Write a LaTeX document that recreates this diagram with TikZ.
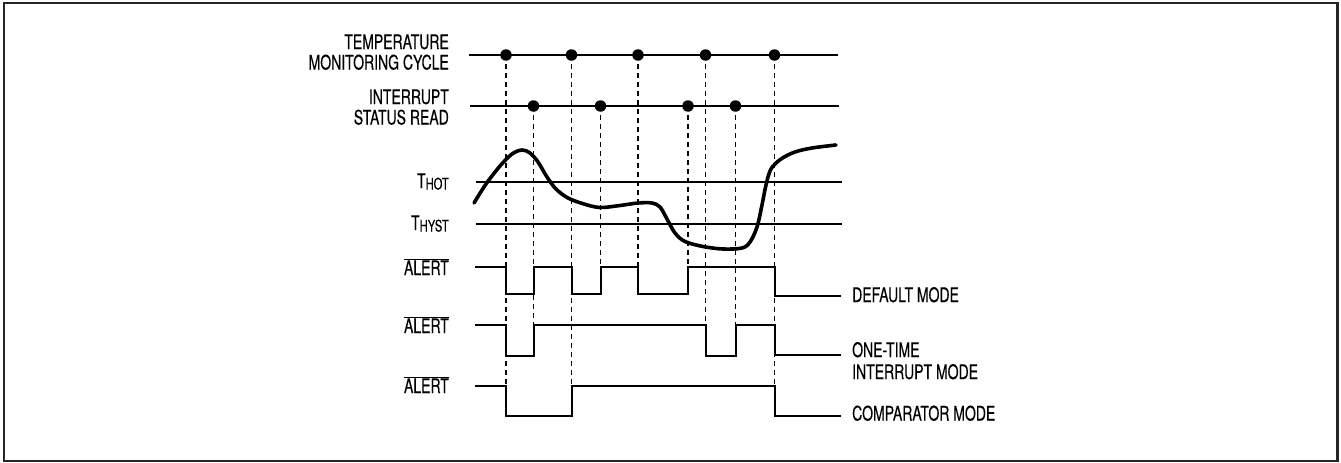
\documentclass[tikz,border=0pt]{standalone}
\usepackage{fontspec}
\setmainfont{TeX Gyre Heros}[FakeStretch=0.70,FakeBold=0.3]
\begin{document}
\begin{tikzpicture}[x=1pt,y=-1pt,
  axis/.style={line width=2pt},
  sig/.style={line width=2pt,line join=miter},
  guide/.style={line width=1.2pt,dash pattern=on 5pt off 4pt},
  curve/.style={line width=3.6pt,line cap=round,line join=round},
  dot/.style={circle,fill=black,inner sep=0pt,minimum size=11.5pt},
  lbl/.style={inner sep=0pt,font=\fontsize{20}{22}\selectfont},
  lleft/.style={lbl,anchor=base east},
  lright/.style={lbl,anchor=base west}]
\useasboundingbox (0,0) rectangle (1341,463);
\draw[line width=2.4pt,black!85] (4,3) rectangle (1337.5,461);

% left labels
\node[lleft] (l1a) at (449,49) {TEMPERATURE};
\node[lleft] (l1b) at (449,69.5) {MONITORING CYCLE};
\node[lleft] (l2a) at (449,104) {INTERRUPT};
\node[lleft] (l2b) at (449,124.5) {STATUS READ};
\node[lleft] (lhot) at (449,188) {T\raisebox{-1.5pt}{\fontsize{16}{16}\selectfont HOT}};
\node[lleft] (lhyst) at (449,230) {T\raisebox{-1.5pt}{\fontsize{16}{16}\selectfont HYST}};
\node[lleft] (la1) at (449,275) {$\overline{\hbox{ALERT}}$};
\node[lleft] (la2) at (449,333) {$\overline{\hbox{ALERT}}$};
\node[lleft] (la3) at (449,393) {$\overline{\hbox{ALERT}}$};

% right labels
\node[lright] (r1) at (852,302) {DEFAULT MODE};
\node[lright] (r2a) at (852,357) {ONE-TIME};
\node[lright] (r2b) at (852,379) {INTERRUPT MODE};
\node[lright] (r3) at (852,420.5) {COMPARATOR MODE};

% time axes
\draw[axis] (469,55) -- (838,55);
\draw[axis] (470,106) -- (839,106);
\draw[axis] (476,182) -- (842,182);
\draw[axis] (476,224) -- (842,224);

% dots
\foreach \n/\x in {t1/506,t2/571.5,t3/638,t4/705.5,t5/774.5}
  \node[dot] (\n) at (\x,55) {};
\foreach \n/\x in {i1/533.5,i2/600.5,i3/688,i4/735.5}
  \node[dot] (\n) at (\x,106) {};

% dashed end points
\coordinate (et1) at (506,386);
\coordinate (et2) at (571.5,386);
\coordinate (et3) at (638,267);
\coordinate (et4) at (705.5,325);
\coordinate (et5) at (774.5,386);
\coordinate (ei1) at (533.5,325);
\coordinate (ei2) at (600.5,267);
\coordinate (ei3) at (688,267);
\coordinate (ei4) at (735.5,325);
\foreach \n in {t1,t2,t3,t4,t5,i1,i2,i3,i4}
  \draw[guide] (\n.center) -- (e\n);

% temperature curve
\draw[curve] plot[smooth,tension=0.55] coordinates {
 (474,203) (486,184) (500,166) (512,154) (522,150) (530,153) (538,162)
 (547,177) (556,189) (568,198) (584,204) (600,207.5) (620,205.5) (638,203)
 (652,203) (660,207) (667,219) (675,233) (685,241.5) (703,246.5) (723,249)
 (742,248) (750,242) (757,227) (762,205) (766,185) (771,169) (781,159)
 (795,152) (812,148) (836,145)};

% ALERT default mode
\draw[sig] (475,267) -- (506,267) -- (506,294) -- (533.5,294) -- (533.5,267)
  -- (571.5,267) -- (571.5,294) -- (600.5,294) -- (600.5,267) -- (638,267)
  -- (638,294) -- (688,294) -- (688,267) -- (774.5,267) -- (774.5,296)
  -- (841,296);
% ALERT one-time interrupt mode
\draw[sig] (475,325) -- (506,325) -- (506,356) -- (533.5,356) -- (533.5,325)
  -- (705.5,325) -- (705.5,356) -- (735.5,356) -- (735.5,325) -- (774.5,325)
  -- (774.5,355) -- (841,355);
% ALERT comparator mode
\draw[sig] (475,386) -- (506,386) -- (506,416) -- (571.5,416) -- (571.5,386)
  -- (774.5,386) -- (774.5,416) -- (841,416);
\end{tikzpicture}
\end{document}
